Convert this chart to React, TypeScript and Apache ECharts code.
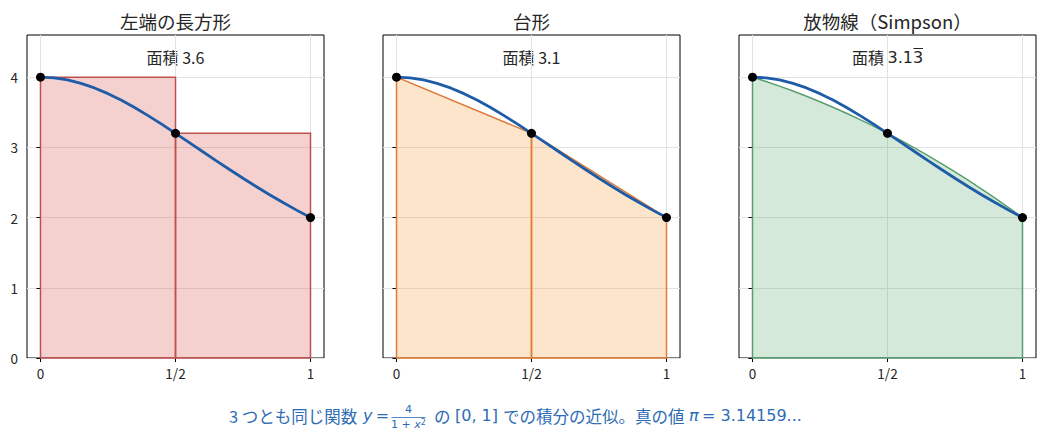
import { useEffect, useRef } from 'react';
import * as echarts from 'echarts';

// 分割点（n = 2）
const X_NODES = [0, 0.5, 1];
const Y_NODES = [4, 3.2, 2];

// y = 4 / (1 + x^2) のサンプル
const CURVE_X = [0, 0.05, 0.1, 0.15, 0.2, 0.25, 0.3, 0.35, 0.4, 0.45, 0.5, 0.55, 0.6, 0.65, 0.7, 0.75, 0.8, 0.85, 0.9, 0.95, 1];
const CURVE_Y = [4, 3.99, 3.9604, 3.912, 3.8462, 3.7647, 3.6697, 3.5635, 3.4483, 3.3264, 3.2, 3.071, 2.9412, 2.812, 2.6846, 2.56, 2.439, 2.3222, 2.2099, 2.1025, 2];
// Simpson の放物線
const PARABOLA_Y = [4, 3.938, 3.872, 3.802, 3.728, 3.65, 3.568, 3.482, 3.392, 3.298, 3.2, 3.098, 2.992, 2.882, 2.768, 2.65, 2.528, 2.402, 2.272, 2.138, 2];

const X_TICKS = [0, 0.5, 1];
const X_TICK_LABELS = ['0', '1/2', '1'];
const Y_TICKS = [0, 1, 2, 3, 4];

const TITLES = ['左端の長方形', '台形', '放物線（Simpson）'];
const AREAS = ['3.6', '3.1', '3.13'];

const X_MIN = -0.05;
const X_MAX = 1.05;
const Y_MAX = 4.6;

const JP = '"Noto Sans CJK JP", "Noto Sans", sans-serif';
const MATH = '"DejaVu Sans", sans-serif';
const CAPTION = '#2d6cb4';
const GRID_COLOR = '#e2e2e2';
const TEXT = '#262626';

const PANELS = [
  { left: 27, fill: 'rgba(214, 80, 75, 0.27)', edge: '#c0504d' },
  { left: 383, fill: 'rgba(245, 170, 80, 0.3)', edge: '#e07b39' },
  { left: 739, fill: 'rgba(85, 168, 104, 0.25)', edge: '#5a9e6f' },
];
const GRID_W = 297;
const GRID_TOP = 35;
const GRID_H = 323;

const App = () => {
  const chartRef = useRef<HTMLDivElement>(null);

  useEffect(() => {
    if (!chartRef.current) return;
    const chart = echarts.init(chartRef.current, undefined, { renderer: 'svg' });

    const rects = X_NODES.slice(0, -1).map((x, i) => [x, X_NODES[i + 1], Y_NODES[i]]);
    const traps = X_NODES.slice(0, -1).map((x, i) => [x, X_NODES[i + 1], Y_NODES[i], Y_NODES[i + 1]]);

    const series: any[] = [];
    PANELS.forEach((p, k) => {
      // 縦グリッド線
      series.push({
        type: 'custom',
        xAxisIndex: k,
        yAxisIndex: k,
        z: 1,
        silent: true,
        data: X_TICKS.map((x) => [x]),
        renderItem: (_: any, api: any) => {
          const a = api.coord([api.value(0), 0]);
          const b = api.coord([api.value(0), Y_MAX]);
          return {
            type: 'line',
            shape: { x1: a[0], y1: a[1], x2: b[0], y2: b[1] },
            style: { stroke: GRID_COLOR, lineWidth: 1 },
          };
        },
      });

      let fillSeries: any;
      if (k === 0) {
        fillSeries = {
          data: rects,
          renderItem: (_: any, api: any) => {
            const x0 = api.value(0), x1 = api.value(1), h = api.value(2);
            return {
              type: 'polygon',
              shape: { points: [api.coord([x0, 0]), api.coord([x0, h]), api.coord([x1, h]), api.coord([x1, 0])] },
              style: { fill: p.fill, stroke: p.edge, lineWidth: 1.5 },
            };
          },
        };
      } else if (k === 1) {
        fillSeries = {
          data: traps,
          renderItem: (_: any, api: any) => {
            const x0 = api.value(0), x1 = api.value(1), y0 = api.value(2), y1 = api.value(3);
            return {
              type: 'polygon',
              shape: { points: [api.coord([x0, 0]), api.coord([x0, y0]), api.coord([x1, y1]), api.coord([x1, 0])] },
              style: { fill: p.fill, stroke: p.edge, lineWidth: 1.5 },
            };
          },
        };
      } else {
        fillSeries = {
          data: [[0, 0]],
          renderItem: (_: any, api: any) => {
            const pts = [api.coord([CURVE_X[0], 0])];
            CURVE_X.forEach((x, i) => pts.push(api.coord([x, PARABOLA_Y[i]])));
            pts.push(api.coord([CURVE_X[CURVE_X.length - 1], 0]));
            return {
              type: 'polygon',
              shape: { points: pts },
              style: { fill: p.fill, stroke: p.edge, lineWidth: 1.5 },
            };
          },
        };
      }
      series.push({ type: 'custom', xAxisIndex: k, yAxisIndex: k, z: 2, silent: true, ...fillSeries });

      series.push({
        type: 'line',
        xAxisIndex: k,
        yAxisIndex: k,
        z: 3,
        showSymbol: false,
        silent: true,
        data: CURVE_X.map((x, i) => [x, CURVE_Y[i]]),
        lineStyle: { color: '#1f5ca8', width: 2.8 },
      });

      series.push({
        type: 'scatter',
        xAxisIndex: k,
        yAxisIndex: k,
        z: 4,
        silent: true,
        symbolSize: 9,
        itemStyle: { color: '#000', opacity: 1 },
        data: X_NODES.map((x, i) => [x, Y_NODES[i]]),
      });
    });

    const graphic: any[] = [];
    PANELS.forEach((p, k) => {
      const cx = p.left + GRID_W / 2;
      graphic.push({
        type: 'text',
        x: cx,
        y: 20.5,
        style: {
          text: TITLES[k],
          font: `18.5px ${JP}`,
          fill: TEXT,
          align: 'center',
          verticalAlign: 'middle',
          textAlign: 'center',
          textVerticalAlign: 'middle',
        },
      });
      graphic.push({
        type: 'text',
        x: cx,
        y: 57,
        style: {
          text: k === 2 ? `{j|面積 }{m|${AREAS[k]}}` : `面積 ${AREAS[k]}`,
          font: `16px ${JP}`,
          fill: TEXT,
          align: 'center',
          verticalAlign: 'middle',
          textAlign: 'center',
          textVerticalAlign: 'middle',
          rich: {
            j: { fontFamily: JP, fontSize: 16, fill: TEXT },
            m: { fontFamily: MATH, fontSize: 16, fill: TEXT },
          },
        },
      });
    });
    // 循環小数の上線
    graphic.push({
      type: 'line',
      shape: { x1: 913.5, y1: 48.5, x2: 923, y2: 48.5 },
      style: { stroke: TEXT, lineWidth: 1 },
    });

    // キャプション
    const capBase = { fill: CAPTION, verticalAlign: 'middle', textVerticalAlign: 'middle' };
    graphic.push(
      {
        type: 'text',
        x: 229,
        y: 415.5,
        style: { ...capBase, text: '3 つとも同じ関数', font: `16.5px ${JP}` },
      },
      {
        type: 'text',
        x: 363,
        y: 415.5,
        style: {
          ...capBase,
          text: '{i|y} {r|=}',
          rich: {
            i: { fontFamily: MATH, fontSize: 16, fontStyle: 'italic', fill: CAPTION },
            r: { fontFamily: MATH, fontSize: 16, fill: CAPTION },
          },
        },
      },
      {
        type: 'text',
        x: 408.5,
        y: 409.5,
        style: { ...capBase, text: '4', font: `11px ${MATH}`, align: 'center', textAlign: 'center' },
      },
      {
        type: 'line',
        shape: { x1: 391.5, y1: 417.5, x2: 425.5, y2: 417.5 },
        style: { stroke: CAPTION, lineWidth: 0.8 },
      },
      {
        type: 'text',
        x: 408.5,
        y: 424.5,
        style: {
          ...capBase,
          align: 'center',
          textAlign: 'center',
          text: '{r|1 + }{i|x}{s|2}',
          rich: {
            r: { fontFamily: MATH, fontSize: 11, fill: CAPTION },
            i: { fontFamily: MATH, fontSize: 11, fontStyle: 'italic', fill: CAPTION },
            s: { fontFamily: MATH, fontSize: 8, fill: CAPTION, verticalAlign: 'top', padding: [0, 0, 5, 0] },
          },
        },
      },
      {
        type: 'text',
        x: 434,
        y: 415.5,
        style: { ...capBase, text: 'の', font: `16.5px ${JP}` },
      },
      {
        type: 'text',
        x: 455,
        y: 415.5,
        style: { ...capBase, text: '[0, 1]', font: `16px ${MATH}` },
      },
      {
        type: 'text',
        x: 503,
        y: 415.5,
        style: { ...capBase, text: 'での積分の近似。真の値', font: `16.5px ${JP}` },
      },
      {
        type: 'text',
        x: 689,
        y: 415.5,
        style: {
          ...capBase,
          text: '{i|π} {r|= 3.14159...}',
          rich: {
            i: { fontFamily: MATH, fontSize: 16, fontStyle: 'italic', fill: CAPTION },
            r: { fontFamily: MATH, fontSize: 16, fill: CAPTION },
          },
        },
      }
    );

    chart.setOption({
      animation: false,
      grid: PANELS.map((p) => ({
        left: p.left,
        top: GRID_TOP,
        width: GRID_W,
        height: GRID_H,
        show: true,
        borderColor: '#000',
        borderWidth: 1,
        backgroundColor: 'transparent',
      })),
      xAxis: PANELS.map((_, k) => ({
        type: 'value',
        gridIndex: k,
        min: X_MIN,
        max: X_MAX,
        axisLine: { show: false },
        splitLine: { show: false },
        axisTick: { show: true, length: 4, customValues: X_TICKS, lineStyle: { color: '#000' } },
        axisLabel: {
          customValues: X_TICKS,
          margin: 8,
          fontFamily: JP,
          fontSize: 13.5,
          color: TEXT,
          formatter: (v: number) => X_TICK_LABELS[X_TICKS.indexOf(v)] ?? '',
        },
      })),
      yAxis: PANELS.map((_, k) => ({
        type: 'value',
        gridIndex: k,
        min: 0,
        max: Y_MAX,
        interval: 1,
        axisLine: { show: false },
        splitLine: { show: true, lineStyle: { color: GRID_COLOR, width: 1 } },
        axisTick: { show: true, length: 4, customValues: Y_TICKS, lineStyle: { color: '#000' } },
        axisLabel: {
          show: k === 0,
          customValues: Y_TICKS,
          margin: 9,
          fontFamily: JP,
          fontSize: 13.5,
          color: TEXT,
        },
      })),
      series,
      graphic,
    });

    return () => {
      chart.dispose();
    };
  }, []);

  return <div ref={chartRef} style={{ position: 'absolute', left: 0, top: 0, width: 1044, height: 442 }} />;
};

export default App;
